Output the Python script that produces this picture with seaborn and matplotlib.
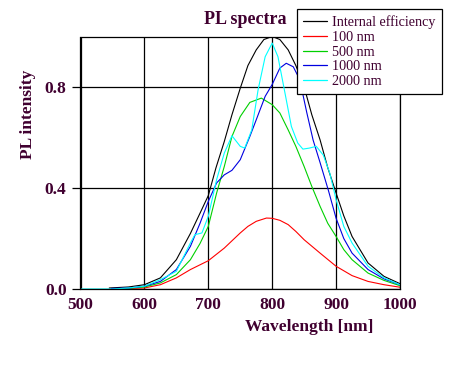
import matplotlib
matplotlib.use("Agg")
import matplotlib.pyplot as plt
import seaborn as sns
import pandas as pd

# ---- data ----
wl_int = [545, 575, 600, 625, 650, 672, 687, 700, 712, 725, 737, 750, 762, 775, 787, 800, 812, 825, 837, 850, 862, 875, 887, 900, 912, 925, 950, 975, 1000]
int_eff = [0.004, 0.008, 0.017, 0.044, 0.116, 0.22, 0.30, 0.37, 0.48, 0.584, 0.69, 0.795, 0.885, 0.947, 0.988, 1.0, 0.988, 0.947, 0.885, 0.80, 0.69, 0.59, 0.48, 0.38, 0.29, 0.208, 0.103, 0.05, 0.021]

wl_100 = [550, 575, 600, 625, 650, 672, 700, 725, 750, 762, 775, 791, 800, 812, 825, 837, 850, 875, 900, 925, 950, 975, 1000]
pl_100 = [0.0, 0.002, 0.004, 0.017, 0.044, 0.077, 0.112, 0.162, 0.222, 0.248, 0.268, 0.281, 0.28, 0.272, 0.255, 0.228, 0.195, 0.142, 0.09, 0.053, 0.03, 0.017, 0.007]

wl_500 = [550, 575, 600, 625, 650, 672, 687, 700, 713, 725, 737, 750, 765, 783, 800, 812, 825, 837, 850, 862, 875, 887, 900, 912, 925, 950, 975, 1000]
pl_500 = [0.0, 0.003, 0.008, 0.024, 0.057, 0.116, 0.18, 0.248, 0.38, 0.485, 0.604, 0.683, 0.739, 0.756, 0.73, 0.697, 0.63, 0.565, 0.485, 0.406, 0.327, 0.26, 0.208, 0.156, 0.116, 0.063, 0.034, 0.013]

wl_1000 = [548, 575, 600, 625, 650, 672, 687, 700, 713, 725, 737, 750, 765, 775, 789, 800, 812, 822, 833, 843, 854, 864, 875, 888, 900, 912, 925, 950, 975, 1000]
pl_1000 = [0.002, 0.004, 0.011, 0.03, 0.077, 0.169, 0.26, 0.347, 0.42, 0.452, 0.47, 0.512, 0.604, 0.67, 0.763, 0.81, 0.875, 0.894, 0.88, 0.83, 0.70, 0.59, 0.50, 0.39, 0.28, 0.20, 0.142, 0.077, 0.04, 0.017]

wl_2000 = [500, 550, 575, 600, 625, 650, 672, 679, 690, 700, 713, 725, 737, 750, 757, 768, 778, 789, 800, 809, 820, 830, 840, 848, 858, 869, 880, 890, 900, 912, 925, 950, 975, 1000]
pl_2000 = [0.0, 0.0, 0.004, 0.011, 0.037, 0.07, 0.182, 0.215, 0.222, 0.288, 0.433, 0.538, 0.607, 0.565, 0.558, 0.63, 0.79, 0.92, 0.974, 0.92, 0.776, 0.644, 0.578, 0.554, 0.558, 0.565, 0.53, 0.46, 0.354, 0.248, 0.182, 0.09, 0.044, 0.017]

labels = ["Internal efficiency", "100 nm", "500 nm", "1000 nm", "2000 nm"]
colors = ["#000000", "#ff0000", "#00d000", "#0000e0", "#00ffff"]
x_ticks = [500, 600, 700, 800, 900, 1000]
y_ticks = [0.0, 0.4, 0.8]
y_tick_labels = ["0.0", "0.4", "0.8"]

series = [(wl_int, int_eff), (wl_100, pl_100), (wl_500, pl_500), (wl_1000, pl_1000), (wl_2000, pl_2000)]
frames = []
for lab, (w, v) in zip(labels, series):
    frames.append(pd.DataFrame({"wl": w, "val": v, "series": lab}))
df = pd.concat(frames, ignore_index=True)

# ---- plot ----
sns.set_style("white")
plt.rcParams["font.family"] = ["Liberation Serif", "DejaVu Serif"]
txt_color = "#400030"

fig = plt.figure(figsize=(4.77, 3.80), dpi=100)
ax = fig.add_axes([80.5 / 477, 1 - 289 / 380, (400 - 80.5) / 477, (289 - 36.5) / 380])

sns.lineplot(data=df, x="wl", y="val", hue="series", hue_order=labels,
             palette=dict(zip(labels, colors)), sort=False, estimator=None,
             linewidth=0.8, ax=ax, legend=False)

ax.set_xlim(500, 1000)
ax.set_ylim(0, 1.0)
ax.set_xticks(x_ticks)
ax.set_xticklabels([str(t) for t in x_ticks])
ax.set_yticks(y_ticks)
ax.set_yticklabels(y_tick_labels)
ax.grid(True, color="black", linewidth=0.9)
ax.set_axisbelow(True)
for s in ax.spines.values():
    s.set_color("black")
    s.set_linewidth(0.9)
ax.tick_params(axis="y", direction="out", length=6, width=0.9, color="black",
               labelsize=12.5, labelcolor=txt_color, left=True, pad=4)
ax.tick_params(axis="x", length=0, labelsize=12.5, labelcolor=txt_color, bottom=True, pad=6)
for lab in ax.get_xticklabels() + ax.get_yticklabels():
    lab.set_fontweight("bold")

ax.set_xlabel("Wavelength [nm]", fontsize=12.5, fontweight="bold", color=txt_color)
ax.xaxis.set_label_coords((309 - 80.5) / 319.5, -38 / 252.5)
ax.xaxis.label.set_va("center")
ax.set_ylabel("PL intensity", fontsize=12.5, fontweight="bold", color=txt_color)
ax.yaxis.set_label_coords(-(80.5 - 28) / 319.5, (289 - 114) / 252.5)
ax.yaxis.label.set_va("center")
ax.set_title("PL spectra", fontsize=13, fontweight="bold", color=txt_color, pad=9, x=0.515)

handles = [plt.Line2D([], [], color=c, linewidth=0.9) for c in colors]
leg = fig.legend(handles, labels, loc="upper left", bbox_to_anchor=(297 / 477, 1 - 9 / 380),
                 frameon=True, fancybox=False, framealpha=1, edgecolor="black",
                 fontsize=10.2, handlelength=1.7, handletextpad=0.35, labelspacing=0.12,
                 borderpad=0.45, borderaxespad=0)
leg.get_frame().set_linewidth(0.9)
for t in leg.get_texts():
    t.set_color(txt_color)

fig.savefig("out.png", dpi=100)
